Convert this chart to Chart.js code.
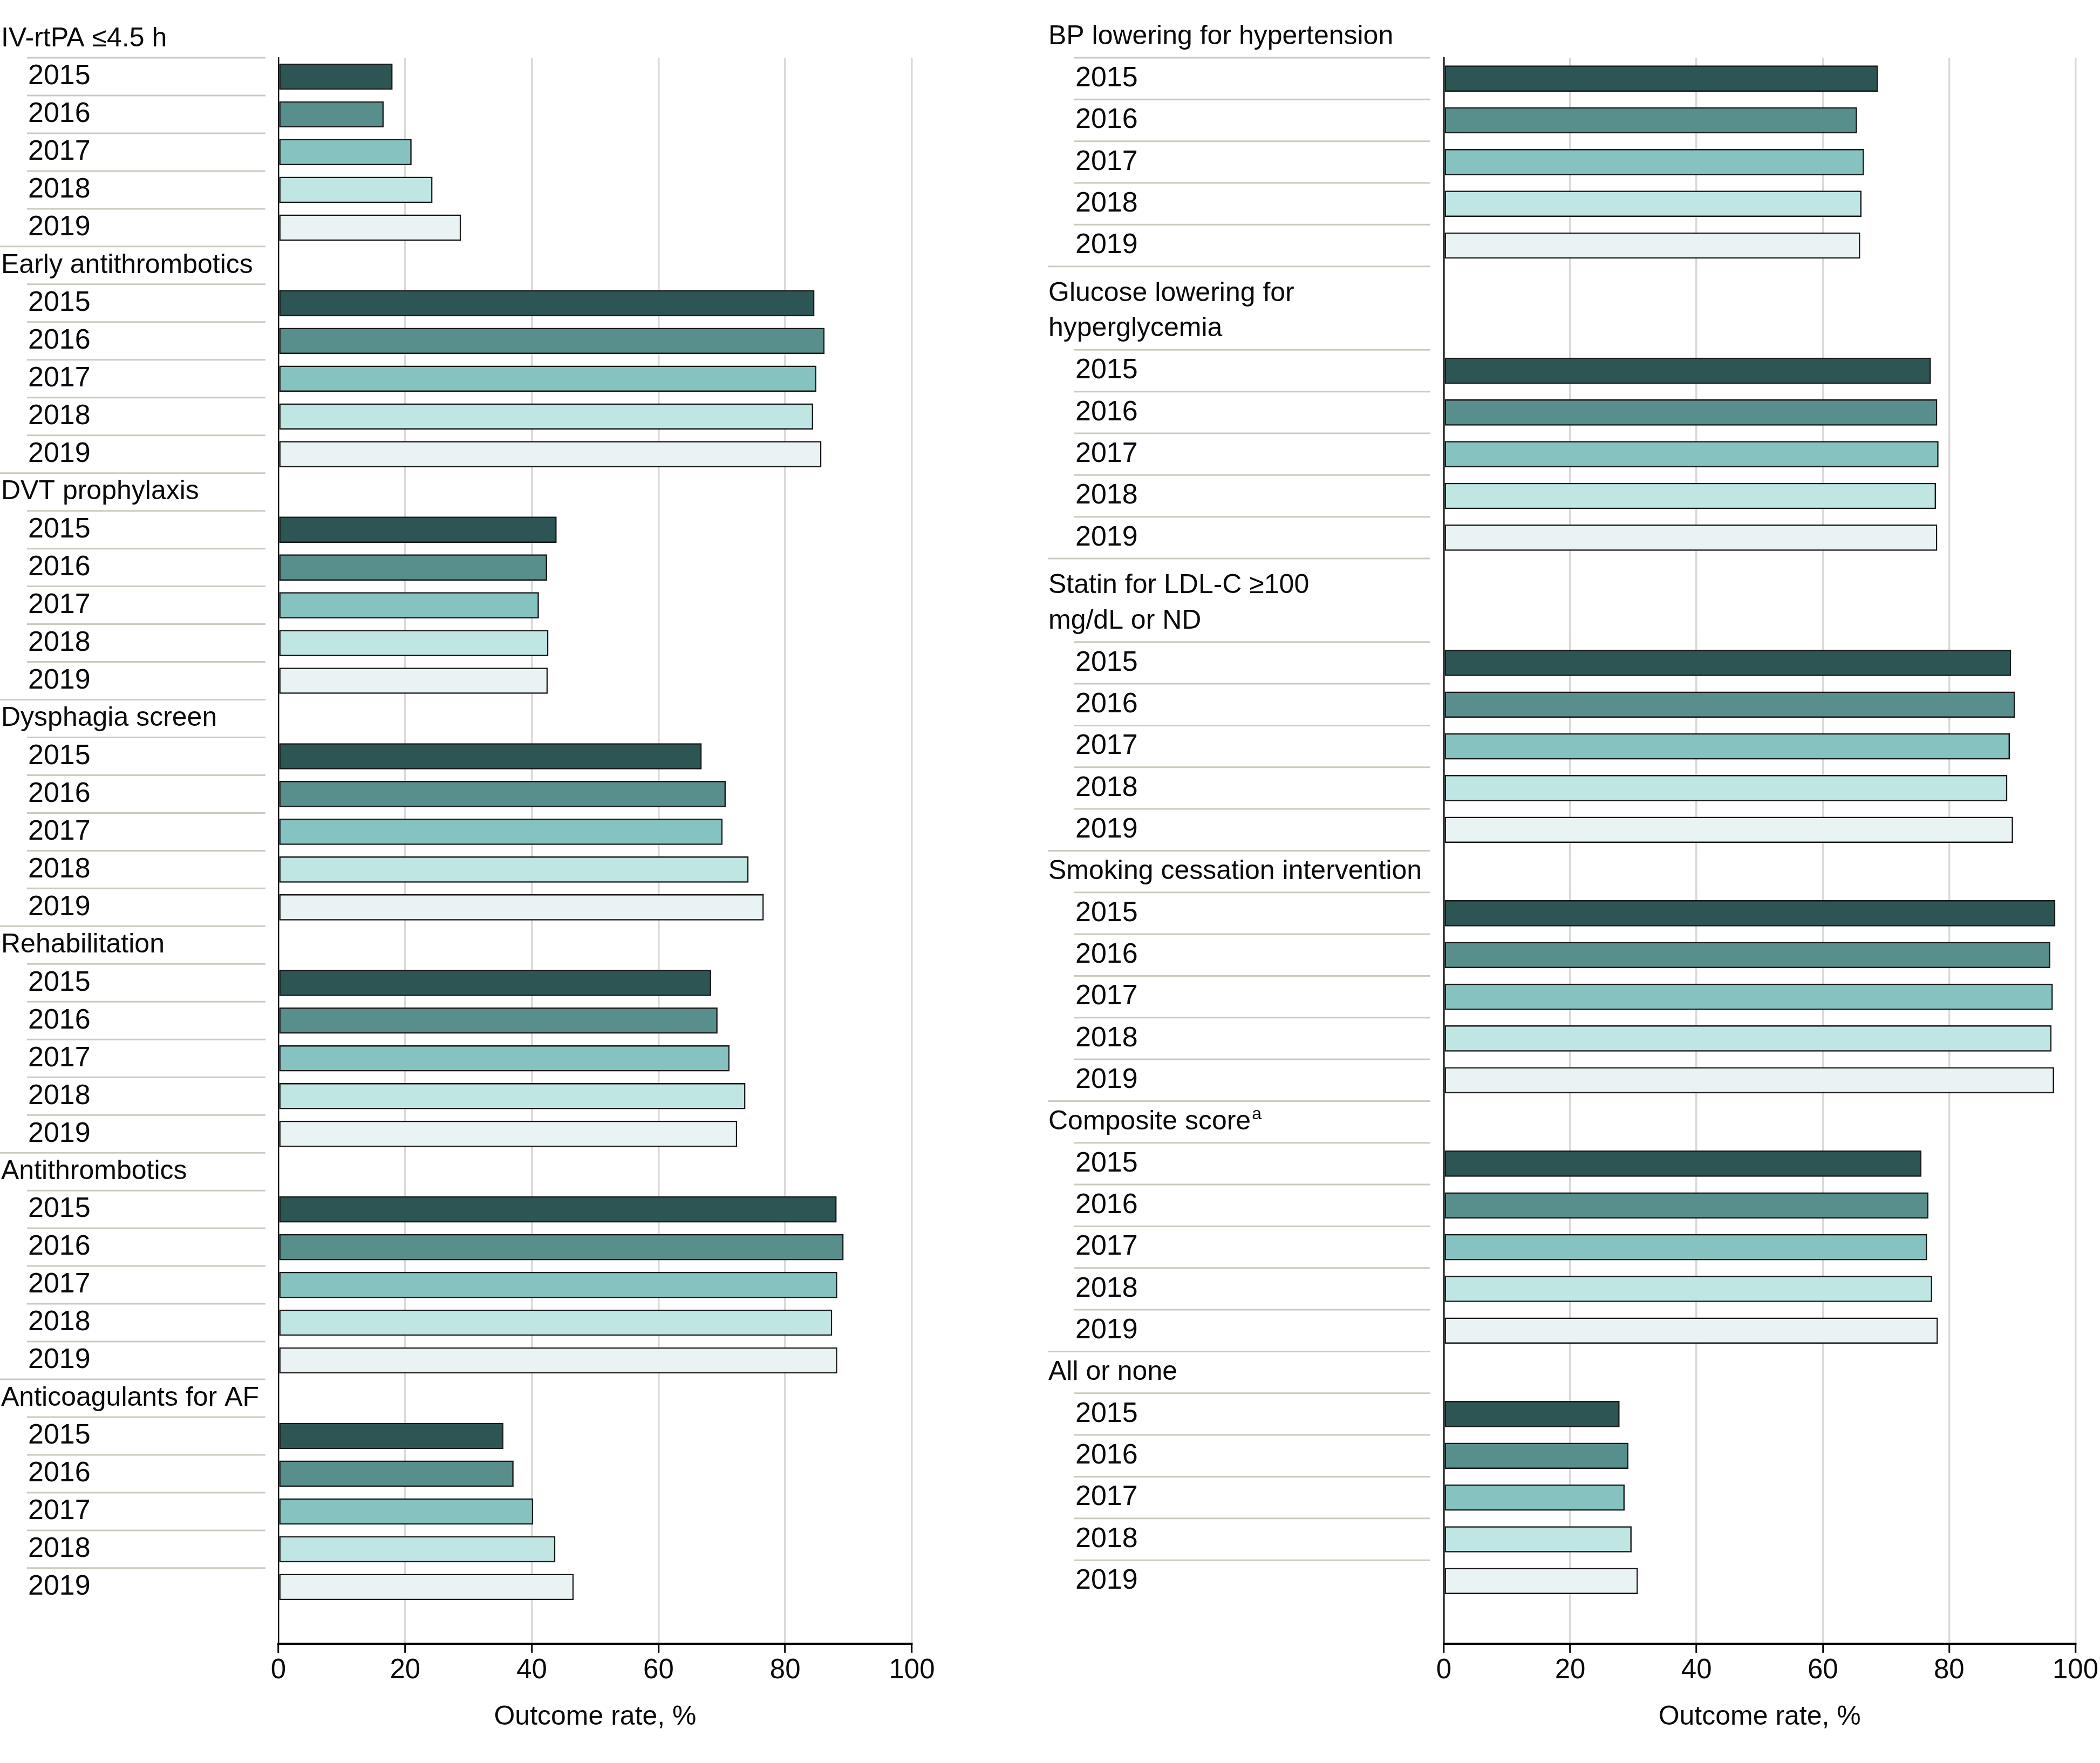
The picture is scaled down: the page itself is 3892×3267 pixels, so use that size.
<!DOCTYPE html>
<html lang="en">
<head>
  <meta charset="UTF-8">
  <title>Stroke care quality measures 2015-2019</title>
  <script src="https://cdn.jsdelivr.net/npm/chart.js"></script>
  <style>
    body {
      margin: 0;
      padding: 0;
      background-color: #ffffff;
    }
    .page {
      position: relative;
      width: 3892px;
      height: 3267px;
    }
    canvas {
      position: absolute;
      top: 0;
    }
    #leftChart { left: 0; }
    #rightChart { left: 1900px; }
  </style>
</head>
<body>
  <div class="page">
    <canvas id="leftChart" width="1900" height="3267"></canvas>
    <canvas id="rightChart" width="1992" height="3267"></canvas>
  </div>

  <script>
    // years and their bar colours
    const years = ['2015', '2016', '2017', '2018', '2019'];
    const yearColors = ['#2c5553', '#588e8b', '#86c2bf', '#c0e6e4', '#eaf3f4'];
    const xTicks = [0, 20, 40, 60, 80, 100];

    // left panel measures (outcome rate, %)
    const leftNames = ['IV-rtPA ≤4.5 h', 'Early antithrombotics', 'DVT prophylaxis', 'Dysphagia screen',
      'Rehabilitation', 'Antithrombotics', 'Anticoagulants for AF'];
    const ivRtpa = [18.0, 16.6, 21.0, 24.3, 28.8];
    const earlyAntithrombotics = [84.6, 86.2, 84.9, 84.4, 85.7];
    const dvtProphylaxis = [43.9, 42.4, 41.1, 42.6, 42.5];
    const dysphagiaScreen = [66.8, 70.6, 70.1, 74.2, 76.6];
    const rehabilitation = [68.3, 69.3, 71.2, 73.7, 72.4];
    const antithrombotics = [88.1, 89.2, 88.2, 87.4, 88.2];
    const anticoagulantsAF = [35.5, 37.1, 40.2, 43.7, 46.6];

    // right panel measures (\n = second line of the label, ^ = superscript)
    const rightNames = ['BP lowering for hypertension', 'Glucose lowering for\nhyperglycemia',
      'Statin for LDL-C ≥100\nmg/dL or ND', 'Smoking cessation intervention', 'Composite score^a', 'All or none'];
    const bpLowering = [68.7, 65.4, 66.5, 66.1, 65.9];
    const glucoseLowering = [77.1, 78.1, 78.3, 77.9, 78.1];
    const statinLdl = [89.8, 90.4, 89.6, 89.2, 90.1];
    const smokingCessation = [96.8, 96.0, 96.4, 96.2, 96.6];
    const compositeScore = [75.6, 76.7, 76.5, 77.3, 78.2];
    const allOrNone = [27.8, 29.2, 28.6, 29.7, 30.7];

    const leftSeries = [ivRtpa, earlyAntithrombotics, dvtProphylaxis, dysphagiaScreen,
      rehabilitation, antithrombotics, anticoagulantsAF];
    const rightSeries = [bpLowering, glucoseLowering, statinLdl, smokingCessation, compositeScore, allOrNone];

    const FONT = '"Liberation Sans", Arial, sans-serif';
    const TEXT = '#0a0a0a';

    // one row per header line and per year, plus an empty row at the bottom
    function buildRows(names, series) {
      const labels = [];
      const kinds = [];
      const byYear = years.map(() => []);
      names.forEach((name, g) => {
        const lines = name.split('\n');
        lines.forEach((line, k) => {
          labels.push(line);
          kinds.push(k === 0 ? (lines.length > 1 ? 'head2' : 'head') : 'cont');
          byYear.forEach(arr => arr.push(null));
        });
        years.forEach((yr, j) => {
          labels.push(yr);
          kinds.push('year');
          byYear.forEach((arr, m) => arr.push(m === j ? series[g][j] : null));
        });
      });
      labels.push('');
      kinds.push('blank');
      byYear.forEach(arr => arr.push(null));
      return { labels, kinds, byYear };
    }

    // draws the row texts and the thin separator lines left of the plot
    const rowText = {
      id: 'rowText',
      afterDraw(chart, args, opts) {
        const ctx = chart.ctx;
        const yScale = chart.scales.y;
        const kinds = opts.kinds;
        const labels = chart.data.labels;
        ctx.save();
        ctx.strokeStyle = '#c9ccbd';
        ctx.lineWidth = 3;
        for (let i = 0; i < kinds.length - 2; i++) {
          if (kinds[i + 1] === 'cont') continue;
          const yy = (yScale.getPixelForValue(i) + yScale.getPixelForValue(i + 1)) / 2;
          const x0 = kinds[i + 1] === 'year' ? opts.lineYear : opts.lineHead;
          ctx.beginPath();
          ctx.moveTo(x0, yy);
          ctx.lineTo(opts.lineEnd, yy);
          ctx.stroke();
        }
        ctx.fillStyle = TEXT;
        ctx.textAlign = 'left';
        ctx.textBaseline = 'middle';
        labels.forEach((txt, i) => {
          if (!txt) return;
          let yy = yScale.getPixelForValue(i);
          // two-line labels sit tighter than the row pitch
          if (kinds[i] === 'head2') yy += 12;
          const isYear = kinds[i] === 'year';
          const x = isYear ? opts.textYear : opts.textHead;
          const parts = txt.split('^');
          ctx.font = (isYear ? '52px ' : '50px ') + FONT;
          ctx.fillText(parts[0], x, yy);
          if (parts[1]) {
            const w = ctx.measureText(parts[0]).width;
            ctx.font = '32px ' + FONT;
            ctx.fillText(parts[1], x + w + 2, yy - 14);
          }
        });
        ctx.restore();
      }
    };

    function makeChart(canvasId, names, series, pad, textOpts) {
      const rows = buildRows(names, series);
      return new Chart(document.getElementById(canvasId), {
        type: 'bar',
        data: {
          labels: rows.labels,
          datasets: years.map((yr, j) => ({
            label: yr,
            data: rows.byYear[j],
            backgroundColor: yearColors[j],
            borderColor: '#1a1a1a',
            borderWidth: 2.5,
            borderSkipped: false,
            barThickness: 48,
            grouped: false
          }))
        },
        options: {
          indexAxis: 'y',
          responsive: false,
          animation: false,
          devicePixelRatio: 1,
          layout: { padding: { left: pad.left, right: pad.right, top: 107, bottom: 55 } },
          plugins: {
            legend: { display: false },
            tooltip: { enabled: false },
            rowText: Object.assign({ kinds: rows.kinds }, textOpts)
          },
          scales: {
            x: {
              type: 'linear',
              min: 0,
              max: 100,
              afterBuildTicks: s => { s.ticks = xTicks.map(v => ({ value: v })); },
              grid: {
                color: c => (c.tick && c.tick.value === 0) ? 'rgba(0,0,0,0)' : '#d9d9d9',
                lineWidth: 3.5,
                tickColor: '#000000',
                tickWidth: 3,
                tickLength: 17
              },
              border: { display: true, color: '#000000', width: 4 },
              ticks: {
                font: { family: FONT, size: 51 },
                color: TEXT,
                padding: 3,
                maxRotation: 0,
                autoSkip: false
              },
              title: {
                display: true,
                text: 'Outcome rate, %',
                font: { family: FONT, size: 50 },
                color: TEXT,
                padding: { top: 22, bottom: 0 }
              }
            },
            y: {
              type: 'category',
              min: 1,
              max: rows.labels.length - 1,
              offset: true,
              grid: { display: false, drawTicks: false },
              ticks: { display: false },
              border: { display: true, color: '#000000', width: 2.5 }
            }
          }
        },
        plugins: [rowText]
      });
    }

    makeChart('leftChart', leftNames, leftSeries, { left: 516, right: 210 },
      { textHead: 2, textYear: 52, lineHead: 0, lineYear: 50, lineEnd: 492 });
    makeChart('rightChart', rightNames, rightSeries, { left: 776, right: 45 },
      { textHead: 43, textYear: 93, lineHead: 42, lineYear: 91, lineEnd: 750 });
  </script>
</body>
</html>
